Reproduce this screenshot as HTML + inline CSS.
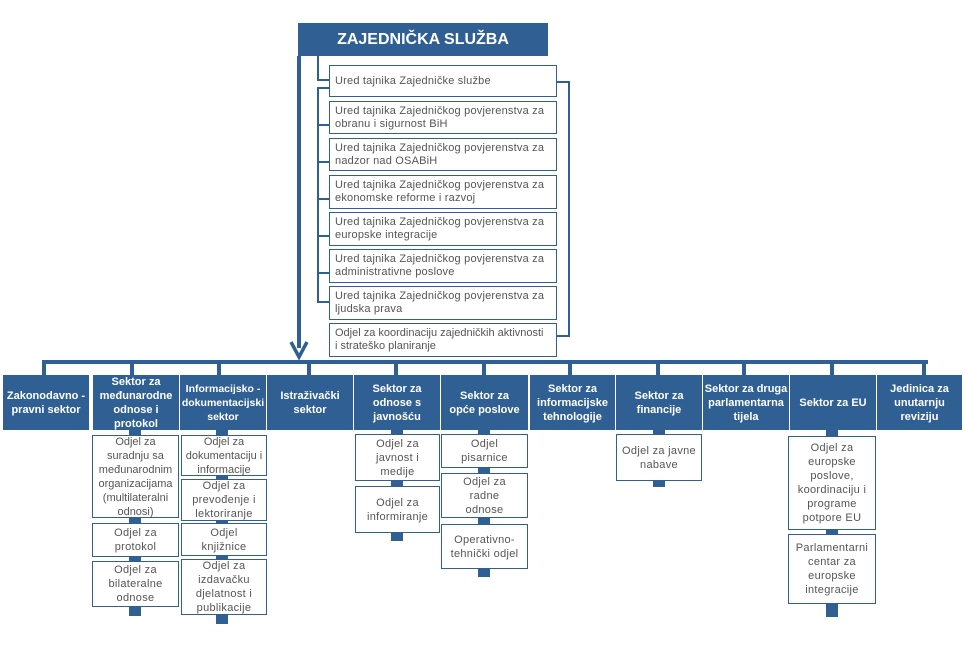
<!DOCTYPE html>
<html><head><meta charset="utf-8"><style>
body{margin:0;width:966px;height:654px;background:#fff;position:relative;overflow:hidden;font-family:"Liberation Sans","DejaVu Sans",sans-serif}
.a{position:absolute}
.b{position:absolute;background:#2F5F93}
.s{position:absolute;background:#2F5F93;color:#fff;font-weight:bold;font-size:11px;line-height:14px;display:flex;align-items:center;justify-content:center;text-align:center;box-sizing:border-box;padding:0 1px;white-space:nowrap}
.d{position:absolute;border:1.5px solid #2F5F93;background:#fff;color:#555;font-size:11px;line-height:14px;display:flex;align-items:center;justify-content:center;text-align:center;box-sizing:border-box;padding:0 1px;white-space:nowrap;letter-spacing:0.3px}
.u{position:absolute;border:1.5px solid #2F5F93;background:#fff;color:#555;font-size:11px;line-height:13px;display:flex;align-items:center;box-sizing:border-box;padding:0 5px;left:329px;width:228px;white-space:nowrap;letter-spacing:0.2px}
</style></head><body>
<div class="s" style="left:298px;top:23px;width:250px;height:33px;font-size:16px">ZAJEDNIČKA SLUŽBA</div>
<div class="b" style="left:297px;top:56px;width:4px;height:292px"></div>
<svg class="a" style="left:289px;top:340px" width="20" height="20"><path d="M2 2 L10 17 L18 2" stroke="#2F5F93" stroke-width="3.5" fill="none"/></svg>
<div class="b" style="left:317px;top:56px;width:2px;height:24px"></div>
<div class="b" style="left:317px;top:79px;width:13px;height:2px"></div>
<div class="b" style="left:317px;top:87px;width:2px;height:216px"></div>
<div class="b" style="left:317px;top:87px;width:13px;height:2px"></div>
<div class="b" style="left:317px;top:124px;width:13px;height:2px"></div>
<div class="b" style="left:317px;top:161px;width:13px;height:2px"></div>
<div class="b" style="left:317px;top:198px;width:13px;height:2px"></div>
<div class="b" style="left:317px;top:235px;width:13px;height:2px"></div>
<div class="b" style="left:317px;top:272px;width:13px;height:2px"></div>
<div class="b" style="left:317px;top:301px;width:13px;height:2px"></div>
<div class="b" style="left:557px;top:81px;width:13px;height:2px"></div>
<div class="b" style="left:568px;top:81px;width:2px;height:256px"></div>
<div class="b" style="left:557px;top:335px;width:13px;height:2px"></div>
<div class="u" style="top:65px;height:32px">Ured tajnika Zajedničke službe</div>
<div class="u" style="top:101px;height:33px">Ured tajnika Zajedničkog povjerenstva za<br>obranu i sigurnost BiH</div>
<div class="u" style="top:138px;height:33px">Ured tajnika Zajedničkog povjerenstva za<br>nadzor nad OSABiH</div>
<div class="u" style="top:175px;height:34px">Ured tajnika Zajedničkog povjerenstva za<br>ekonomske reforme i razvoj</div>
<div class="u" style="top:212px;height:34px">Ured tajnika Zajedničkog povjerenstva za<br>europske integracije</div>
<div class="u" style="top:249px;height:34px">Ured tajnika Zajedničkog povjerenstva za<br>administrativne poslove</div>
<div class="u" style="top:286px;height:34px">Ured tajnika Zajedničkog povjerenstva za<br>ljudska prava</div>
<div class="u" style="top:323px;height:34px;letter-spacing:0">Odjel za koordinaciju zajedničkih aktivnosti<br>i strateško planiranje</div>
<div class="b" style="left:42px;top:360px;width:886px;height:4px"></div>
<div class="b" style="left:42px;top:360px;width:4px;height:15px"></div>
<div class="b" style="left:130px;top:360px;width:4px;height:15px"></div>
<div class="b" style="left:217px;top:360px;width:4px;height:15px"></div>
<div class="b" style="left:307px;top:360px;width:4px;height:15px"></div>
<div class="b" style="left:394px;top:360px;width:4px;height:15px"></div>
<div class="b" style="left:482px;top:360px;width:4px;height:15px"></div>
<div class="b" style="left:568px;top:360px;width:4px;height:15px"></div>
<div class="b" style="left:656px;top:360px;width:4px;height:15px"></div>
<div class="b" style="left:742px;top:360px;width:4px;height:15px"></div>
<div class="b" style="left:830px;top:360px;width:4px;height:15px"></div>
<div class="b" style="left:922px;top:360px;width:4px;height:15px"></div>
<div class="s" style="left:3px;top:375px;width:86px;height:55px">Zakonodavno -<br>pravni sektor</div>
<div class="s" style="left:93px;top:375px;width:86px;height:55px">Sektor za<br>međunarodne<br>odnose i<br>protokol</div>
<div class="s" style="left:180px;top:375px;width:86px;height:55px;font-size:10.5px">Informacijsko -<br>dokumentacijski<br>sektor</div>
<div class="s" style="left:267px;top:375px;width:86px;height:55px">Istraživački<br>sektor</div>
<div class="s" style="left:354px;top:375px;width:86px;height:55px">Sektor za<br>odnose s<br>javnošću</div>
<div class="s" style="left:441px;top:375px;width:87px;height:55px">Sektor za<br>opće poslove</div>
<div class="s" style="left:530px;top:375px;width:85px;height:55px">Sektor za<br>informacijske<br>tehnologije</div>
<div class="s" style="left:616px;top:375px;width:86px;height:55px">Sektor za<br>financije</div>
<div class="s" style="left:703px;top:375px;width:86px;height:55px">Sektor za druga<br>parlamentarna<br>tijela</div>
<div class="s" style="left:790px;top:375px;width:86px;height:55px">Sektor za EU</div>
<div class="s" style="left:877px;top:375px;width:85px;height:55px">Jedinica za<br>unutarnju<br>reviziju</div>
<div class="b" style="left:129px;top:430px;width:12px;height:6px"></div>
<div class="b" style="left:129px;top:517px;width:12px;height:6px"></div>
<div class="b" style="left:129px;top:556px;width:12px;height:6px"></div>
<div class="b" style="left:129px;top:606px;width:12px;height:10px"></div>
<div class="b" style="left:216px;top:430px;width:12px;height:6px"></div>
<div class="b" style="left:216px;top:475px;width:12px;height:5px"></div>
<div class="b" style="left:216px;top:520px;width:12px;height:4px"></div>
<div class="b" style="left:216px;top:555px;width:12px;height:5px"></div>
<div class="b" style="left:216px;top:614px;width:12px;height:10px"></div>
<div class="b" style="left:391px;top:430px;width:12px;height:5px"></div>
<div class="b" style="left:391px;top:480px;width:12px;height:7px"></div>
<div class="b" style="left:391px;top:532px;width:12px;height:9px"></div>
<div class="b" style="left:478px;top:430px;width:12px;height:5px"></div>
<div class="b" style="left:478px;top:467px;width:12px;height:7px"></div>
<div class="b" style="left:478px;top:517px;width:12px;height:8px"></div>
<div class="b" style="left:478px;top:568px;width:12px;height:9px"></div>
<div class="b" style="left:653px;top:430px;width:12px;height:5px"></div>
<div class="b" style="left:653px;top:480px;width:12px;height:7px"></div>
<div class="b" style="left:826px;top:430px;width:12px;height:7px"></div>
<div class="b" style="left:826px;top:529px;width:12px;height:6px"></div>
<div class="b" style="left:826px;top:603px;width:12px;height:14px"></div>
<div class="d" style="left:92px;top:435px;width:87px;height:83px;letter-spacing:0">Odjel za<br>suradnju sa<br>međunarodnim<br>organizacijama<br>(multilateralni<br>odnosi)</div>
<div class="d" style="left:92px;top:523px;width:87px;height:34px">Odjel za<br>protokol</div>
<div class="d" style="left:92px;top:561px;width:87px;height:46px">Odjel za<br>bilateralne<br>odnose</div>
<div class="d" style="left:181px;top:435px;width:86px;height:41px;letter-spacing:0">Odjel za<br>dokumentaciju i<br>informacije</div>
<div class="d" style="left:181px;top:479px;width:86px;height:42px">Odjel za<br>prevođenje i<br>lektoriranje</div>
<div class="d" style="left:181px;top:523px;width:86px;height:33px">Odjel<br>knjižnice</div>
<div class="d" style="left:181px;top:559px;width:86px;height:56px">Odjel za<br>izdavačku<br>djelatnost i<br>publikacije</div>
<div class="d" style="left:355px;top:434px;width:85px;height:47px">Odjel za<br>javnost i<br>medije</div>
<div class="d" style="left:355px;top:486px;width:85px;height:47px">Odjel za<br>informiranje</div>
<div class="d" style="left:441px;top:434px;width:87px;height:34px">Odjel<br>pisarnice</div>
<div class="d" style="left:441px;top:473px;width:87px;height:45px">Odjel za<br>radne<br>odnose</div>
<div class="d" style="left:441px;top:524px;width:87px;height:45px">Operativno-<br>tehnički odjel</div>
<div class="d" style="left:616px;top:434px;width:86px;height:47px">Odjel za javne<br>nabave</div>
<div class="d" style="left:788px;top:436px;width:88px;height:94px">Odjel za<br>europske<br>poslove,<br>koordinaciju i<br>programe<br>potpore EU</div>
<div class="d" style="left:788px;top:534px;width:88px;height:70px">Parlamentarni<br>centar za<br>europske<br>integracije</div>
</body></html>
